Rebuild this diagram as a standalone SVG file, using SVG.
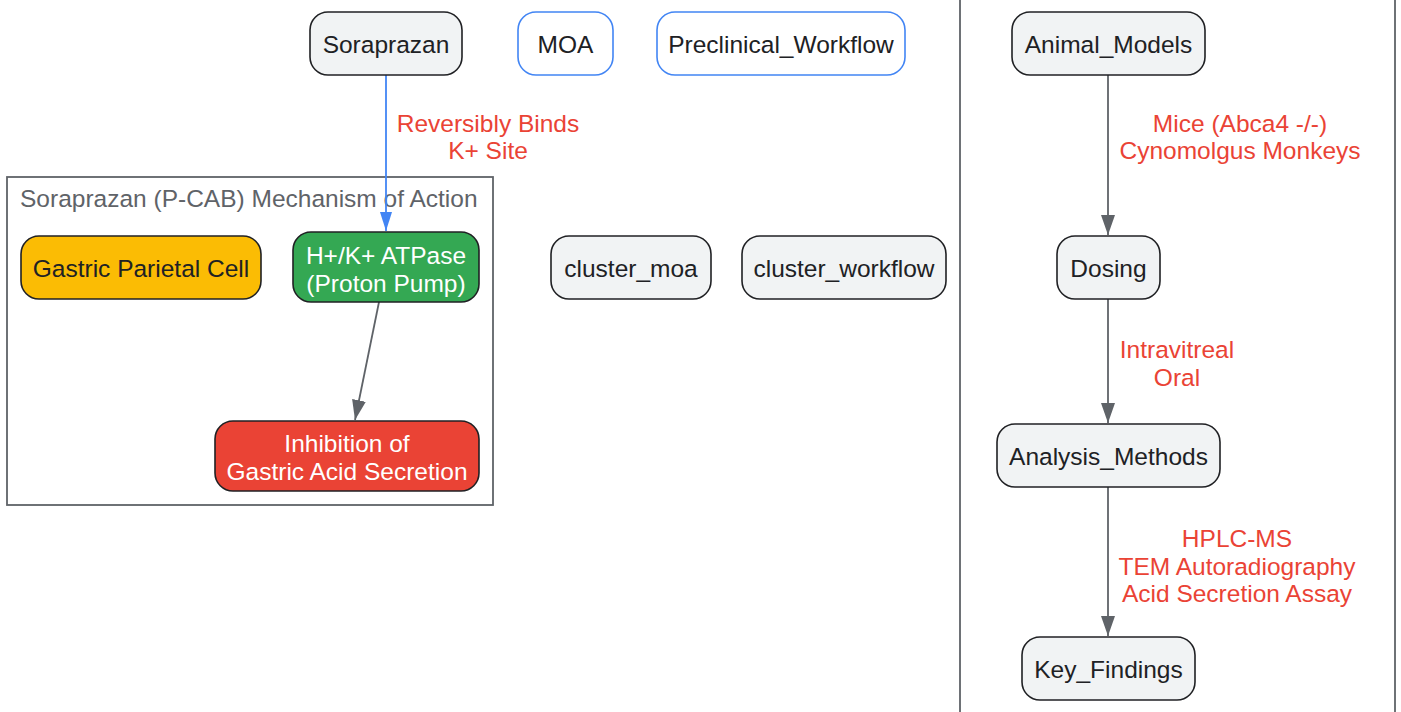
<svg xmlns="http://www.w3.org/2000/svg" width="1401" height="712" viewBox="0 0 1401 712">
<style>
text{font-family:"Liberation Sans",Arial,sans-serif;font-size:24.5px;text-anchor:middle}
.n{fill:#f1f3f4;stroke:#202124;stroke-width:1.6}
.b{fill:#ffffff;stroke:#4285f4;stroke-width:1.6}
.t{fill:#202124}
.w{fill:#ffffff}
.lbl{fill:#ea4335}
.cl{fill:none;stroke:#5f6368;stroke-width:1.8}
.e{fill:none;stroke:#5f6368;stroke-width:1.8}
.eb{fill:none;stroke:#4285f4;stroke-width:1.8}
</style>
<defs>
<marker id="ag" viewBox="0 0 10 10" refX="10" refY="5" markerWidth="20" markerHeight="14" markerUnits="userSpaceOnUse" orient="auto" preserveAspectRatio="none">
<path d="M0,0 L10,5 L0,10 z" fill="#5f6368"/>
</marker>
<marker id="ab" viewBox="0 0 10 10" refX="10" refY="5" markerWidth="19" markerHeight="12" markerUnits="userSpaceOnUse" orient="auto" preserveAspectRatio="none">
<path d="M0,0 L10,5 L0,10 z" fill="#4285f4"/>
</marker>
</defs>
<rect width="1401" height="712" fill="#ffffff"/>

<g id="cluster_moa_box">
<rect class="cl" x="7" y="177" width="486" height="328"/>
<text x="20" y="207" style="text-anchor:start;fill:#5f6368">Soraprazan (P-CAB) Mechanism of Action</text>
</g>
<g id="cluster_workflow_box">
<rect class="cl" x="960" y="-10" width="435" height="732"/>
</g>

<g id="connectors">
<path class="eb" d="M386,75 L386,231" marker-end="url(#ab)"/>
<text class="lbl" x="488" y="132">Reversibly Binds</text>
<text class="lbl" x="488" y="159">K+ Site</text>
<path class="e" d="M379,302 L355,420" marker-end="url(#ag)"/>
<path class="e" d="M1108,75 L1108,235" marker-end="url(#ag)"/>
<text class="lbl" x="1240" y="132">Mice (Abca4 -/-)</text>
<text class="lbl" x="1240" y="159">Cynomolgus Monkeys</text>
<path class="e" d="M1108,299 L1108,423" marker-end="url(#ag)"/>
<text class="lbl" x="1177" y="358">Intravitreal</text>
<text class="lbl" x="1177" y="386">Oral</text>
<path class="e" d="M1108,487 L1108,636" marker-end="url(#ag)"/>
<text class="lbl" x="1237" y="547">HPLC-MS</text>
<text class="lbl" x="1237" y="575">TEM Autoradiography</text>
<text class="lbl" x="1237" y="602">Acid Secretion Assay</text>
</g>

<g id="Soraprazan">
<rect class="n" x="310" y="12" width="152" height="63" rx="18"/>
<text class="t" x="386" y="52.5">Soraprazan</text>
</g>
<g id="MOA">
<rect class="b" x="518" y="12" width="95" height="63" rx="18"/>
<text class="t" x="565.5" y="52.5">MOA</text>
</g>
<g id="Preclinical_Workflow">
<rect class="b" x="657" y="12" width="248" height="63" rx="18"/>
<text class="t" x="781" y="52.5">Preclinical_Workflow</text>
</g>
<g id="Gastric_Parietal_Cell">
<rect x="21" y="236" width="240" height="63" rx="18" fill="#fbbc04" stroke="#202124" stroke-width="1.6"/>
<text class="t" x="141" y="276.5">Gastric Parietal Cell</text>
</g>
<g id="HK_ATPase">
<rect x="293" y="232" width="186" height="70" rx="18" fill="#34a853" stroke="#202124" stroke-width="1.6"/>
<text class="w" x="386" y="264">H+/K+ ATPase</text>
<text class="w" x="386" y="292">(Proton Pump)</text>
</g>
<g id="Inhibition">
<rect x="215" y="421" width="264" height="70" rx="18" fill="#ea4335" stroke="#202124" stroke-width="1.6"/>
<text class="w" x="347" y="452">Inhibition of</text>
<text class="w" x="347" y="480">Gastric Acid Secretion</text>
</g>
<g id="cluster_moa">
<rect class="n" x="551" y="236" width="160" height="63" rx="18"/>
<text class="t" x="631" y="276.5">cluster_moa</text>
</g>
<g id="cluster_workflow">
<rect class="n" x="742" y="236" width="204" height="63" rx="18"/>
<text class="t" x="844" y="276.5">cluster_workflow</text>
</g>
<g id="Animal_Models">
<rect class="n" x="1012" y="12" width="193" height="63" rx="18"/>
<text class="t" x="1108.5" y="52.5">Animal_Models</text>
</g>
<g id="Dosing">
<rect class="n" x="1057" y="236" width="103" height="63" rx="18"/>
<text class="t" x="1108.5" y="276.5">Dosing</text>
</g>
<g id="Analysis_Methods">
<rect class="n" x="997" y="424" width="223" height="63" rx="18"/>
<text class="t" x="1108.5" y="464.5">Analysis_Methods</text>
</g>
<g id="Key_Findings">
<rect class="n" x="1022" y="637" width="173" height="63" rx="18"/>
<text class="t" x="1108.5" y="677.5">Key_Findings</text>
</g>
</svg>
